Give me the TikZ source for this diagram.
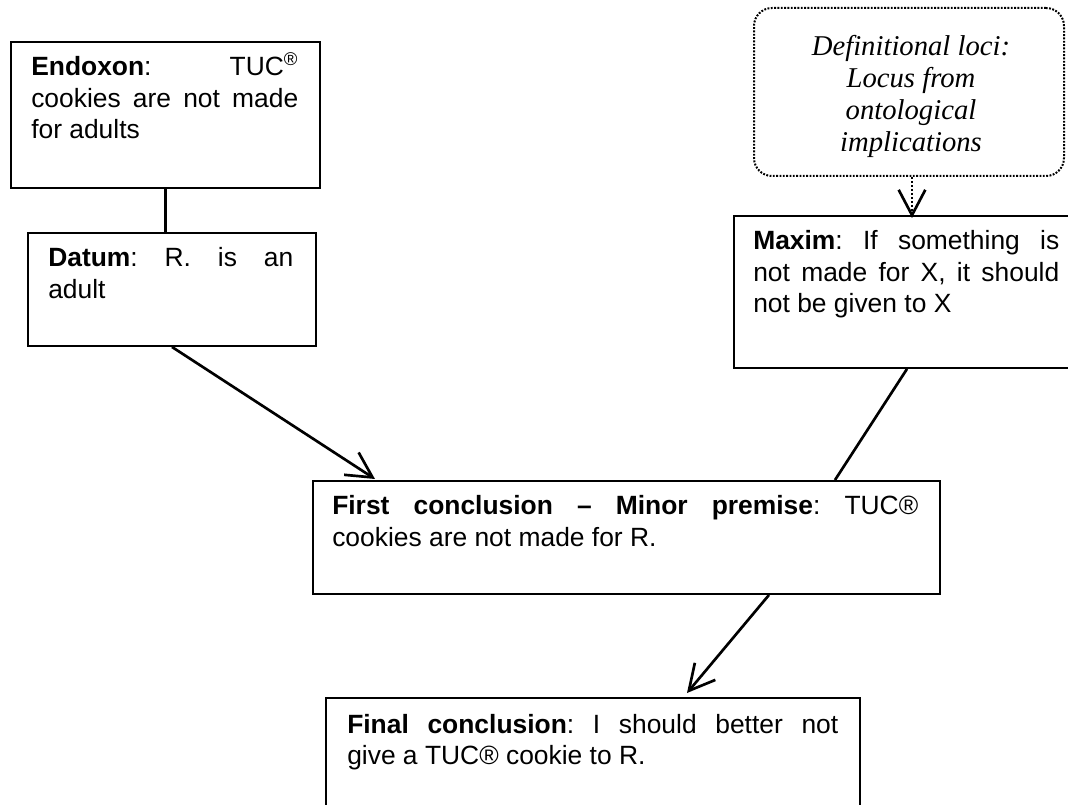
\documentclass[tikz,border=0pt]{standalone}
\usepackage{fontspec}
\setmainfont{Liberation Sans}
\newfontfamily\locifont{Liberation Serif}
\usetikzlibrary{arrows.meta,calc}
\begin{document}
\begin{tikzpicture}[x=0.75pt,y=-0.75pt,
  box/.style={draw,line width=1.45pt,rectangle,inner sep=0pt,anchor=north west},
  txt/.style={anchor=base west,inner sep=0pt,align=justify,
    font={\fontsize{19.8pt}{23.3pt}\selectfont\frenchspacing\hyphenpenalty=10000 \exhyphenpenalty=10000 \tolerance=10000 }},
  conn/.style={line width=2pt},
  tipstyle/.style={-{Straight Barb[length=19pt,width=20pt,line width=2pt]}},
  arr/.style={conn,tipstyle}]
\useasboundingbox (0,0) rectangle (1068,805);
\clip (0,0) rectangle (1068,805);
% boxes
\node[box,minimum width=231.75pt,minimum height=109.5pt] (endoxon) at (10,41) {};
\node[box,minimum width=216pt,minimum height=84.75pt] (datum) at (27,232) {};
\node[box,rounded corners=13.5pt,line width=1.5pt,dash pattern=on 1.4pt off 1.1pt,
      minimum width=232.5pt,minimum height=126pt] (def) at (753,7) {};
\node[box,minimum width=260.25pt,minimum height=114pt] (maxim) at (733,215) {};
\node[box,minimum width=470.25pt,minimum height=84.75pt] (first) at (312,480) {};
\node[box,minimum width=400.5pt,minimum height=84.75pt] (final) at (325,697) {};
% texts
\node[txt,text width=200.25pt] (endoxontext) at ($(endoxon.north west)+(21,35)$)
  {\textbf{Endoxon}: TUC\textsuperscript{®}\linebreak cookies are not made\linebreak for adults};
\node[txt,text width=183.75pt] (datumtext) at ($(datum.north west)+(21,35)$)
  {\textbf{Datum}: R. is an\linebreak adult};
\node[inner sep=0pt,align=center,font={\locifont\itshape\fontsize{21.5pt}{24pt}\selectfont}] (deftext) at ($(def.center)+(2,4)$)
  {Definitional loci:\\Locus from\\ontological\\implications};
\node[txt,text width=229.5pt] (maximtext) at ($(maxim.north west)+(20,35)$)
  {\textbf{Maxim}: If something is\linebreak not made for X, it should\linebreak not be given to X};
\node[txt,text width=439.5pt] (firsttext) at ($(first.north west)+(20,35)$)
  {\textbf{First conclusion – Minor premise}: TUC®\linebreak cookies are not made for R.};
\node[txt,text width=368.25pt] (finaltext) at ($(final.north west)+(22,36)$)
  {\textbf{Final conclusion}: I should better not\linebreak give a TUC® cookie to R.};
% connectors
\draw[conn] (endoxon.south) -- (endoxon.south |- datum.north);
\draw[arr] (datum.south) -- ($(first.north west)+(63,-1)$);
\coordinate (dtop) at ($(def.south)+(3,0)$);
\draw[conn,dash pattern=on 1.5pt off 1.5pt,tipstyle] (dtop) -- ($(dtop |- maxim.north)+(0,3)$);
\draw[conn] ($(maxim.south west)+(174,0)$) -- ($(first.north west)+(523,0)$);
\draw[arr] ($(first.south west)+(457,0)$) -- ($(final.north west)+(362,-4)$);
\end{tikzpicture}
\end{document}
